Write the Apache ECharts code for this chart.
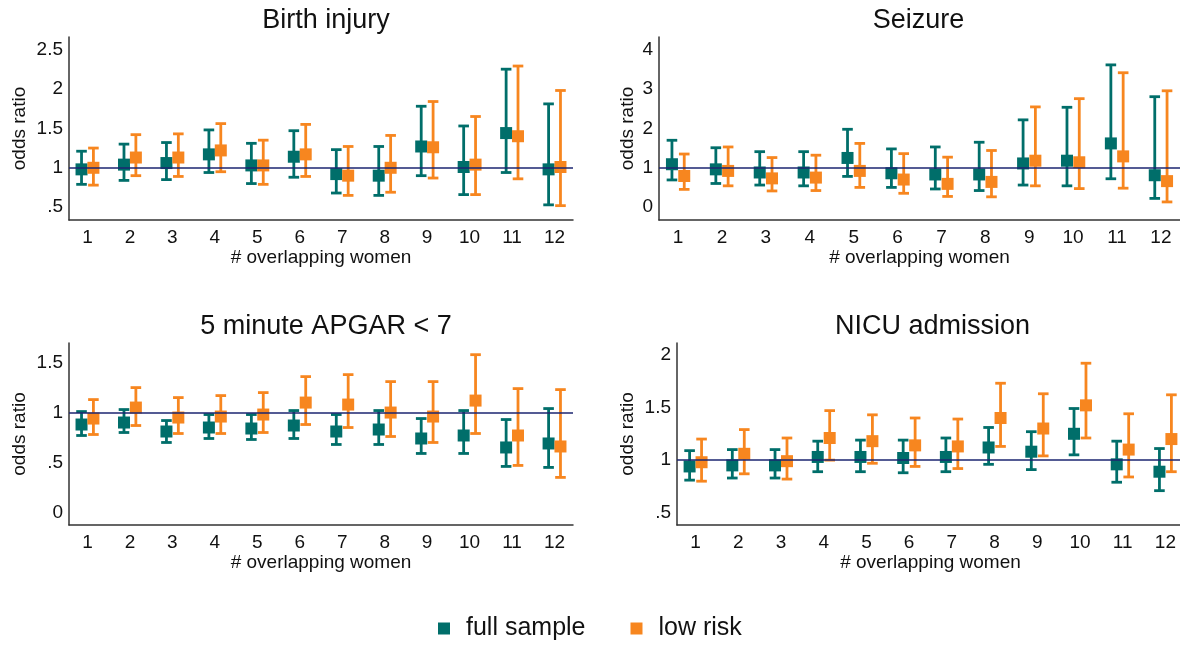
<!DOCTYPE html>
<html>
<head>
<meta charset="utf-8">
<script src="https://cdn.jsdelivr.net/npm/echarts@6/dist/echarts.min.js"></script>
<style>html,body{margin:0;padding:0;background:#fff;}#c{width:1180px;height:646px;}</style>
</head>
<body>
<div id="c"></div>
<script>
// ---------- data ----------
const categories = [1, 2, 3, 4, 5, 6, 7, 8, 9, 10, 11, 12];
const panelTitles = ['Birth injury', 'Seizure', '5 minute APGAR < 7', 'NICU admission'];
const seriesNames = ['full sample', 'low risk'];

// Birth injury
const birthFullPt = [0.98, 1.04, 1.06, 1.17, 1.03, 1.14, 0.92, 0.90, 1.27, 1.01, 1.44, 0.98];
const birthFullLo = [0.79, 0.84, 0.85, 0.94, 0.80, 0.88, 0.68, 0.65, 0.90, 0.66, 0.94, 0.53];
const birthFullHi = [1.21, 1.30, 1.32, 1.48, 1.31, 1.47, 1.23, 1.27, 1.78, 1.53, 2.25, 1.81];
const birthLowPt  = [1.00, 1.13, 1.13, 1.22, 1.03, 1.17, 0.90, 1.00, 1.26, 1.04, 1.40, 1.01];
const birthLowLo  = [0.78, 0.90, 0.89, 0.95, 0.79, 0.89, 0.65, 0.69, 0.87, 0.66, 0.86, 0.52];
const birthLowHi  = [1.25, 1.42, 1.43, 1.56, 1.35, 1.55, 1.27, 1.41, 1.84, 1.65, 2.29, 1.98];

// Seizure
const seizFullPt = [1.09, 0.96, 0.88, 0.88, 1.25, 0.86, 0.83, 0.83, 1.11, 1.18, 1.62, 0.81];
const seizFullLo = [0.69, 0.60, 0.56, 0.54, 0.78, 0.50, 0.46, 0.42, 0.56, 0.54, 0.72, 0.22];
const seizFullHi = [1.70, 1.51, 1.41, 1.41, 1.98, 1.48, 1.53, 1.65, 2.22, 2.54, 3.62, 2.81];
const seizLowPt  = [0.79, 0.92, 0.73, 0.75, 0.92, 0.70, 0.59, 0.64, 1.18, 1.14, 1.29, 0.66];
const seizLowLo  = [0.45, 0.54, 0.41, 0.42, 0.50, 0.35, 0.27, 0.26, 0.54, 0.47, 0.48, 0.13];
const seizLowHi  = [1.35, 1.53, 1.26, 1.32, 1.62, 1.36, 1.27, 1.44, 2.55, 2.76, 3.42, 2.96];

// 5 minute APGAR < 7
const apgarFullPt = [0.88, 0.90, 0.81, 0.85, 0.84, 0.87, 0.81, 0.83, 0.74, 0.77, 0.65, 0.69];
const apgarFullLo = [0.77, 0.80, 0.70, 0.74, 0.73, 0.74, 0.68, 0.68, 0.59, 0.59, 0.46, 0.45];
const apgarFullHi = [1.01, 1.03, 0.92, 0.98, 0.98, 1.02, 0.98, 1.02, 0.94, 1.02, 0.93, 1.04];
const apgarLowPt  = [0.94, 1.05, 0.95, 0.96, 0.98, 1.10, 1.08, 1.00, 0.96, 1.12, 0.77, 0.66];
const apgarLowLo  = [0.78, 0.87, 0.79, 0.79, 0.80, 0.88, 0.85, 0.76, 0.70, 0.79, 0.47, 0.35];
const apgarLowHi  = [1.13, 1.25, 1.15, 1.17, 1.20, 1.36, 1.38, 1.31, 1.31, 1.58, 1.24, 1.23];

// NICU admission
const nicuFullPt = [0.94, 0.95, 0.95, 1.03, 1.03, 1.02, 1.03, 1.12, 1.08, 1.25, 0.96, 0.89];
const nicuFullLo = [0.81, 0.83, 0.83, 0.89, 0.89, 0.88, 0.89, 0.96, 0.91, 1.05, 0.79, 0.71];
const nicuFullHi = [1.09, 1.10, 1.10, 1.18, 1.19, 1.19, 1.21, 1.31, 1.27, 1.49, 1.18, 1.11];
const nicuLowPt  = [0.98, 1.06, 0.99, 1.21, 1.18, 1.14, 1.13, 1.40, 1.30, 1.52, 1.10, 1.20];
const nicuLowLo  = [0.80, 0.87, 0.82, 1.00, 0.97, 0.94, 0.92, 1.13, 1.04, 1.21, 0.84, 0.89];
const nicuLowHi  = [1.20, 1.29, 1.21, 1.47, 1.43, 1.40, 1.39, 1.73, 1.63, 1.92, 1.44, 1.62];

// y tick labels
const birthTicks = [0.5, 1, 1.5, 2, 2.5];
const seizTicks  = [0, 1, 2, 3, 4];
const apgarTicks = [0, 0.5, 1, 1.5];
const nicuTicks  = [0.5, 1, 1.5, 2];

// ---------- layout / style ----------
const TEAL = '#006e6a';
const ORANGE = '#f7861f';
const NAVY = '#1b2470';
const AXIS = '#333333';
const TEXT = '#111111';
const FONT = '"Liberation Sans", Arial, sans-serif';
const OFFSET = 0.14;

const panels = [
  { title: panelTitles[0], ticks: birthTicks, yMin: 0.338, yMax: 2.658,
    full: [birthFullPt, birthFullLo, birthFullHi], low: [birthLowPt, birthLowLo, birthLowHi],
    grid: { left: 69, top: 37, width: 504, height: 183 }, nameGap: 40 },
  { title: panelTitles[1], ticks: seizTicks, yMin: -0.33, yMax: 4.33,
    full: [seizFullPt, seizFullLo, seizFullHi], low: [seizLowPt, seizLowLo, seizLowHi],
    grid: { left: 659, top: 37, width: 521, height: 183 }, nameGap: 22 },
  { title: panelTitles[2], ticks: apgarTicks, yMin: -0.127, yMax: 1.697,
    full: [apgarFullPt, apgarFullLo, apgarFullHi], low: [apgarLowPt, apgarLowLo, apgarLowHi],
    grid: { left: 69, top: 343, width: 504, height: 182 }, nameGap: 40 },
  { title: panelTitles[3], ticks: nicuTicks, yMin: 0.384, yMax: 2.112,
    full: [nicuFullPt, nicuFullLo, nicuFullHi], low: [nicuLowPt, nicuLowLo, nicuLowHi],
    grid: { left: 677, top: 343, width: 507, height: 182 }, nameGap: 40 }
];

function fmtTick(v) {
  if (Math.abs(v - 0.5) < 1e-9) return '.5';
  return String(v);
}

function renderErr(params, api) {
  const x = api.value(0), lo = api.value(1), hi = api.value(2);
  const pH = api.coord([x, hi]);
  const pL = api.coord([x, lo]);
  const cap = 5.3;
  const style = { stroke: api.visual('color'), lineWidth: 2.8, lineCap: 'butt' };
  return {
    type: 'group',
    children: [
      { type: 'line', shape: { x1: pH[0], y1: pH[1], x2: pL[0], y2: pL[1] }, style: style },
      { type: 'line', shape: { x1: pH[0] - cap, y1: pH[1], x2: pH[0] + cap, y2: pH[1] }, style: style },
      { type: 'line', shape: { x1: pL[0] - cap, y1: pL[1], x2: pL[0] + cap, y2: pL[1] }, style: style }
    ]
  };
}

const grids = [], xAxes = [], yAxes = [], series = [], titles = [];

panels.forEach(function (p, i) {
  grids.push(Object.assign({ outerBoundsMode: 'none', containLabel: false }, p.grid));
  titles.push({
    text: p.title,
    left: p.grid.left + p.grid.width / 2 - (i === 1 ? 6 : (i === 3 ? 3 : 0)),
    top: p.grid.top - 35,
    textAlign: 'center',
    textStyle: { fontFamily: FONT, fontSize: 27, fontWeight: 'normal', color: TEXT }
  });
  xAxes.push({
    type: 'value', gridIndex: i, min: 0.565, max: 12.435,
    name: '# overlapping women', nameLocation: 'middle', nameGap: 23,
    nameTextStyle: { fontFamily: FONT, fontSize: 19, color: TEXT },
    axisLine: { show: true, onZero: false, lineStyle: { color: AXIS, width: 1.5 } },
    axisTick: { show: false },
    splitLine: { show: false },
    axisLabel: { customValues: categories, fontFamily: FONT, fontSize: 19, color: TEXT, margin: 8,
      formatter: function (v) { return String(v); } }
  });
  yAxes.push({
    type: 'value', gridIndex: i, min: p.yMin, max: p.yMax,
    name: 'odds ratio', nameLocation: 'middle', nameGap: p.nameGap, nameRotate: 90,
    nameTextStyle: { fontFamily: FONT, fontSize: 19, color: TEXT },
    axisLine: { show: true, onZero: false, lineStyle: { color: AXIS, width: 1.5 } },
    axisTick: { show: false },
    splitLine: { show: false },
    axisLabel: { customValues: p.ticks, fontFamily: FONT, fontSize: 19, color: TEXT, margin: 6,
      formatter: fmtTick }
  });
  // reference line at 1
  series.push({
    type: 'line', xAxisIndex: i, yAxisIndex: i, data: [], z: 1, silent: true,
    markLine: { silent: true, symbol: 'none', label: { show: false }, animation: false,
      lineStyle: { color: NAVY, width: 1.6, type: 'solid' }, data: [{ yAxis: 1 }] }
  });
  [[p.full, TEAL, -OFFSET, seriesNames[0]], [p.low, ORANGE, OFFSET, seriesNames[1]]].forEach(function (s) {
    const arr = s[0], color = s[1], off = s[2], name = s[3];
    const errData = categories.map(function (c, k) { return [c + off, arr[1][k], arr[2][k]]; });
    const ptData = categories.map(function (c, k) { return [c + off, arr[0][k]]; });
    series.push({
      type: 'custom', name: name, xAxisIndex: i, yAxisIndex: i, z: 2,
      itemStyle: { color: color }, renderItem: renderErr,
      encode: { x: 0, y: [1, 2] }, data: errData, animation: false, clip: false
    });
    series.push({
      type: 'scatter', name: name, xAxisIndex: i, yAxisIndex: i, z: 3,
      symbol: 'rect', symbolSize: 12, itemStyle: { color: color, opacity: 1 },
      data: ptData, animation: false
    });
  });
});

const chart = echarts.init(document.getElementById('c'), null, { renderer: 'canvas' });
chart.setOption({
  backgroundColor: '#ffffff',
  animation: false,
  title: titles,
  grid: grids,
  xAxis: xAxes,
  yAxis: yAxes,
  legend: {
    data: [{ name: seriesNames[0], icon: 'rect' }, { name: seriesNames[1], icon: 'rect' }],
    left: 438, top: 616, padding: 0, itemWidth: 12, itemHeight: 12, itemGap: 45,
    textStyle: { fontFamily: FONT, fontSize: 25, color: TEXT, padding: [0, 0, 0, 11] }
  },
  series: series
});
</script>
</body>
</html>
